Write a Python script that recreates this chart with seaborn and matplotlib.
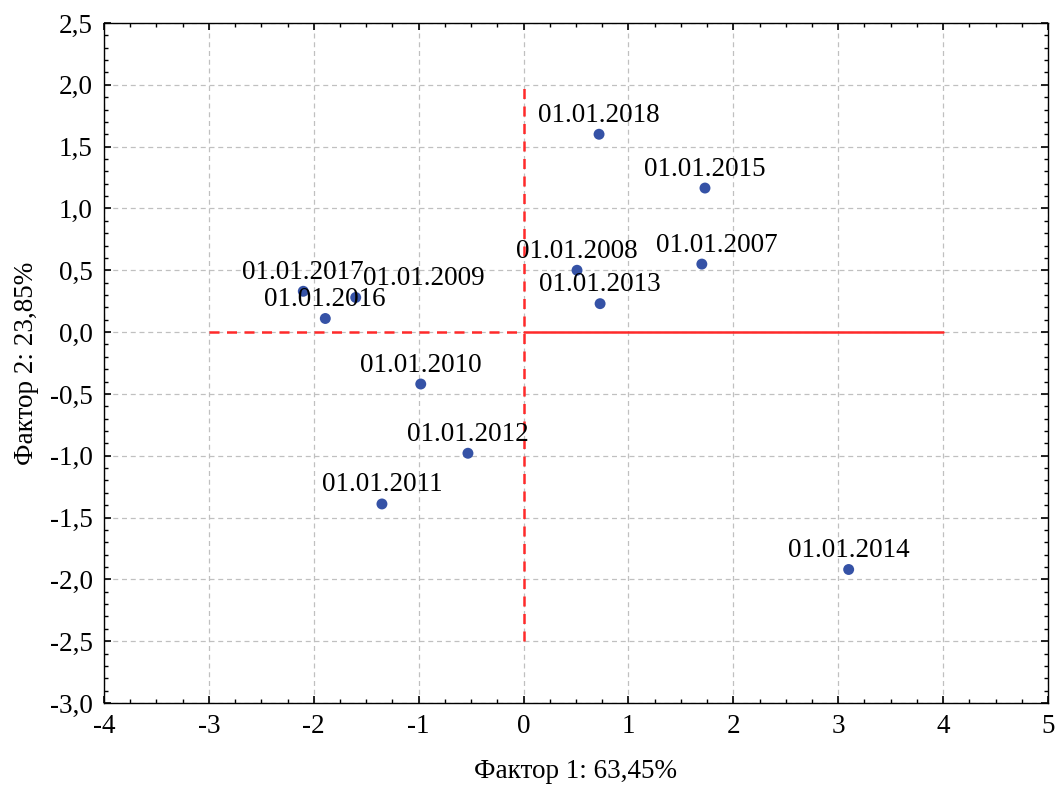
import numpy as np
import pandas as pd
import matplotlib
matplotlib.use("Agg")
import matplotlib.pyplot as plt
import seaborn as sns
from matplotlib.ticker import FuncFormatter, MultipleLocator

# данные: координаты наблюдений в пространстве факторов
dates = ["01.01.2007", "01.01.2008", "01.01.2009", "01.01.2010", "01.01.2011",
         "01.01.2012", "01.01.2013", "01.01.2014", "01.01.2015", "01.01.2016",
         "01.01.2017", "01.01.2018"]
factor1 = [1.70, 0.51, -1.60, -0.98, -1.35, -0.53, 0.73, 3.10, 1.73, -1.89, -2.10, 0.72]
factor2 = [0.55, 0.50, 0.28, -0.42, -1.39, -0.98, 0.23, -1.92, 1.165, 0.11, 0.33, 1.60]

df = pd.DataFrame({"date": dates, "f1": factor1, "f2": factor2})

sns.set_style("white")
plt.rcParams["font.family"] = ["Liberation Serif", "DejaVu Serif"]
plt.rcParams["text.color"] = "black"
plt.rcParams["axes.labelcolor"] = "black"

fig = plt.figure(figsize=(10.58, 7.87), dpi=100)
ax = fig.add_axes([0.0983, 0.1067, 0.8922, 0.8641])

# опорные линии
ax.plot([-3, 0], [0, 0], color="#ff2a2a", lw=1.8, ls=(0, (4, 3)), zorder=1)
ax.plot([0, 4], [0, 0], color="#ff2a2a", lw=1.8, zorder=1)
ax.plot([0, 0], [-2.5, 2.0], color="#ff2a2a", lw=1.8, ls=(0, (4, 3)), zorder=1)

sns.scatterplot(data=df, x="f1", y="f2", ax=ax, color="#3552a6", s=62,
                edgecolor="none", zorder=3)

# смещения подписей (в пунктах)
offsets = {"01.01.2009": (49, 9), "01.01.2007": (11, 9)}
for d, x, y in zip(dates, factor1, factor2):
    dx, dy = offsets.get(d, (0, 9))
    ax.annotate(d, (x, y), xytext=(dx, dy), textcoords="offset points",
                ha="center", va="baseline", fontsize=19.5, color="black", zorder=4)

ax.set_xlim(-4, 5)
ax.set_ylim(-3, 2.5)
ax.xaxis.set_major_locator(MultipleLocator(1))
ax.xaxis.set_minor_locator(MultipleLocator(0.25))
ax.yaxis.set_major_locator(MultipleLocator(0.5))
ax.yaxis.set_minor_locator(MultipleLocator(0.1))
ax.xaxis.set_major_formatter(FuncFormatter(lambda v, p: f"{v:.0f}"))
ax.yaxis.set_major_formatter(FuncFormatter(lambda v, p: f"{v:.1f}".replace(".", ",")))
ax.grid(True, which="major", color="#c0c0c0", ls=(0, (4, 3)), lw=0.9)
ax.set_axisbelow(True)
for s in ax.spines.values():
    s.set_color("black")
    s.set_linewidth(1.0)
ax.tick_params(axis="both", which="both", direction="in", color="black",
               bottom=True, left=True, top=True, right=True)
ax.tick_params(axis="both", which="major", labelsize=19.5, labelcolor="black",
               length=5, width=1.2, pad=8)
ax.tick_params(axis="both", which="minor", length=3, width=1)
ax.set_xlabel("Фактор 1: 63,45%", fontsize=19.5, labelpad=14)
ax.set_ylabel("Фактор 2: 23,85%", fontsize=19.5, labelpad=8)

fig.savefig("out.png", dpi=100)
